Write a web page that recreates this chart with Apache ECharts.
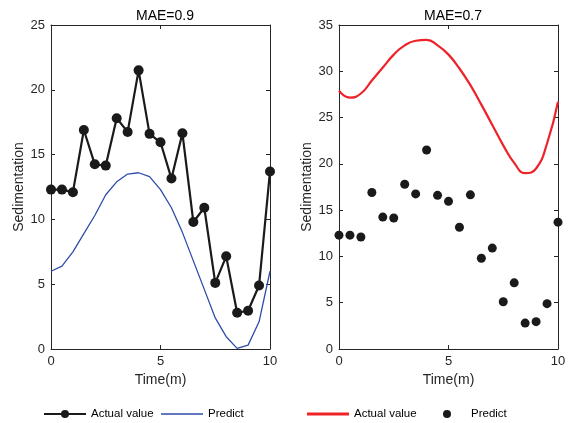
<!DOCTYPE html>
<html><head><meta charset="utf-8">
<script src="https://cdn.jsdelivr.net/npm/echarts@6/dist/echarts.min.js"></script>
<style>html,body{margin:0;padding:0;background:#fff}#c{width:571px;height:423px}</style>
</head><body><div id="c"></div>
<script>
var timeVals = [0,0.5,1,1.5,2,2.5,3,3.5,4,4.5,5,5.5,6,6.5,7,7.5,8,8.5,9,9.5,10];
var observed = [12.3,12.3,12.1,16.9,14.25,14.15,17.8,16.75,21.5,16.6,15.95,13.15,16.65,9.8,10.9,5.1,7.15,2.8,2.95,4.9,13.7];
var leftPredict = [6.0,6.4,7.5,8.9,10.3,11.9,12.9,13.5,13.6,13.3,12.3,10.9,9.0,6.8,4.6,2.4,0.95,0.05,0.3,2.1,6.0];
var rightCurve = [27.9,27.15,27.6,29.0,30.4,31.8,32.8,33.3,33.4,32.8,31.8,30.3,28.5,26.4,24.2,22.0,20.1,19.0,19.5,22.2,26.7];
var leftTitle = 'MAE=0.9', rightTitle = 'MAE=0.7';

function pairs(y){ return timeVals.map(function(t,i){return [t,y[i]];}); }

var font = 'Liberation Sans, Arial, sans-serif';
var frame = '#262626';
function xa(gi, pos, show){
  return {type:'value', gridIndex:gi, position:pos, min:0, max:10, interval:5,
    name: show ? 'Time(m)' : '', nameLocation:'middle', nameGap:24,
    nameTextStyle:{fontFamily:font,fontSize:14,color:'#262626'},
    axisLine:{show:true,onZero:false,lineStyle:{color:frame,width:1}},
    axisTick:{show:true,inside:true,length:4,lineStyle:{color:frame}},
    axisLabel:{show:show,fontFamily:font,fontSize:13,color:'#262626',margin:6},
    splitLine:{show:false}};
}
function ya(gi, pos, show, max){
  return {type:'value', gridIndex:gi, position:pos, min:0, max:max, interval:5,
    name: show ? 'Sedimentation' : '', nameLocation:'middle', nameGap:23,
    nameTextStyle:{fontFamily:font,fontSize:14,color:'#262626'},
    axisLine:{show:true,onZero:false,lineStyle:{color:frame,width:1}},
    axisTick:{show:true,inside:true,length:4,lineStyle:{color:frame}},
    axisLabel:{show:show,fontFamily:font,fontSize:13,color:'#262626',margin:6},
    splitLine:{show:false}};
}
function leg(name, left, opts){
  return Object.assign({data:[name], left:left, top:403, itemWidth:42, itemHeight:10, itemGap:4,
    textStyle:{fontFamily:font,fontSize:11.5,color:'#000'}, selectedMode:false}, opts||{});
}

var chart = echarts.init(document.getElementById('c'));
chart.setOption({
  animation:false,
  title:[
    {text:leftTitle, left:160, top:4, textAlign:'center', textStyle:{fontFamily:font,fontSize:14,fontWeight:'normal',color:'#000'}},
    {text:rightTitle, left:448, top:4, textAlign:'center', textStyle:{fontFamily:font,fontSize:14,fontWeight:'normal',color:'#000'}}
  ],
  grid:[
    {left:51, top:25, width:219, height:324},
    {left:339, top:25, width:219, height:324}
  ],
  xAxis:[xa(0,'bottom',true), xa(0,'top',false), xa(1,'bottom',true), xa(1,'top',false)],
  yAxis:[ya(0,'left',true,25), ya(0,'right',false,25), ya(1,'left',true,35), ya(1,'right',false,35)],
  legend:[
    leg('Actual value', 38),
    leg('Predict', 156, {data:[{name:'Predict', icon:'rect', itemStyle:{color:'#2F4DA8'}}], itemHeight:1.5}),
    leg('Actual value ', 302, {data:[{name:'Actual value ', icon:'rect', itemStyle:{color:'#EE2229'}}], itemHeight:3}),
    leg('Predict ', 438, {icon:'circle', itemWidth:38, itemHeight:8})
  ],
  series:[
    {name:'Actual value', type:'line', xAxisIndex:0, yAxisIndex:0, data:pairs(observed),
      symbol:'circle', symbolSize:10, showSymbol:true,
      lineStyle:{color:'#1a1a1a',width:2.2}, itemStyle:{color:'#1a1a1a'}},
    {name:'Predict', type:'line', xAxisIndex:0, yAxisIndex:0, data:pairs(leftPredict),
      symbol:'none', smooth:false, lineStyle:{color:'#2F4DA8',width:1.3}, itemStyle:{color:'#2F4DA8'}},
    {name:'Actual value ', type:'line', xAxisIndex:2, yAxisIndex:2, data:pairs(rightCurve),
      symbol:'none', smooth:0.5, lineStyle:{color:'#EE2229',width:2.2}, itemStyle:{color:'#EE2229'}},
    {name:'Predict ', type:'scatter', xAxisIndex:2, yAxisIndex:2, data:pairs(observed),
      symbol:'circle', symbolSize:9, itemStyle:{color:'#1a1a1a', opacity:1}}
  ]
});
</script></body></html>
